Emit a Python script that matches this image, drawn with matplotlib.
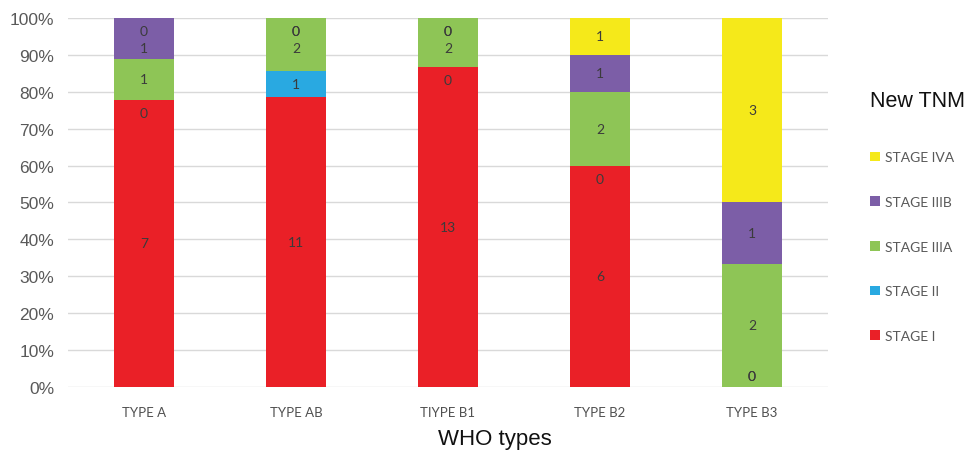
import matplotlib
matplotlib.use("Agg")
import matplotlib.pyplot as plt
from matplotlib.patches import Patch
import numpy as np

# patients per WHO type, split by new TNM stage
who_types = ["TYPE A", "TYPE AB", "TIYPE B1", "TYPE B2", "TYPE B3"]
stages = ["STAGE I", "STAGE II", "STAGE IIIA", "STAGE IIIB", "STAGE IVA"]
stage_i = [7, 11, 13, 6, 0]
stage_ii = [0, 1, 0, 0, 0]
stage_iiia = [1, 2, 2, 2, 2]
stage_iiib = [1, 0, 0, 1, 1]
stage_iva = [0, 0, 0, 1, 3]
stage_colors = ["#EA2027", "#29A9E1", "#8EC556", "#7C5EA7", "#F5E91A"]

counts = np.array([stage_i, stage_ii, stage_iiia, stage_iiib, stage_iva], dtype=float)
shares = counts / counts.sum(axis=0) * 100

fig = plt.figure(figsize=(9.7, 4.52), dpi=100)
ax = fig.add_axes([0.0701, 0.1416, 0.7835, 0.8164])

x = np.arange(len(who_types))
bottoms = np.zeros(len(who_types))
label_pos = np.zeros_like(shares)
for row, share in enumerate(shares):
    ax.bar(x, share, bottom=bottoms, width=0.4, color=stage_colors[row], zorder=2)
    for col in range(len(who_types)):
        if share[col] == 0:
            label_pos[row, col] = min(max(bottoms[col] - 3.5, 3.0), 97.5)
        else:
            label_pos[row, col] = bottoms[col] + share[col] / 2
    bottoms += share

# keep a value label clear of a zero label stacked at the top of the bar
for col in range(len(who_types)):
    top_zeros = [r for r in range(len(stages)) if counts[r, col] == 0 and label_pos[r, col] > 95]
    if top_zeros:
        for r in range(len(stages)):
            if counts[r, col] > 0:
                label_pos[r, col] = min(label_pos[r, col], 97.5 - 5.5)

for row in range(len(stages)):
    for col in range(len(who_types)):
        ax.text(x[col], label_pos[row, col], f"{int(counts[row, col])}", ha="center",
                va="center", fontsize=10, color="#3b3b3b", family="Lato", zorder=3)

ax.set_xlim(-0.5, len(who_types) - 0.5)
ax.set_ylim(0, 100)
ax.set_yticks(np.arange(0, 101, 10))
ax.set_yticklabels([f"{v}%" for v in range(0, 101, 10)], family="Liberation Sans",
                   fontsize=12.5, color="#595959")
ax.set_xticks(x)
ax.set_xticklabels(who_types, family="Lato", fontsize=9.5, color="#505050")
ax.tick_params(axis="both", length=0)
ax.tick_params(axis="x", pad=14)
ax.tick_params(axis="y", pad=10)
ax.grid(axis="y", color="#d9d9d9", linewidth=1, zorder=0)
for spine in ax.spines.values():
    spine.set_visible(False)

ax.set_xlabel("WHO types", family="Liberation Sans", fontsize=16, color="#111111")
ax.xaxis.set_label_coords(0.562, -0.11)

handles = [Patch(facecolor=c, edgecolor="none") for c in stage_colors]
leg = fig.legend(handles[::-1], stages[::-1], loc="upper left",
                 bbox_to_anchor=(0.884, 0.826), frameon=False,
                 title="New TNM", alignment="left",
                 prop={"family": "Lato", "size": 10},
                 handlelength=0.7, handleheight=0.7, handletextpad=0.4,
                 labelspacing=2.35)
leg.get_title().set_fontfamily("Liberation Sans")
leg.get_title().set_fontsize(15.5)
leg.get_title().set_color("#111111")
for t in leg.get_texts():
    t.set_color("#595959")
leg._legend_box.sep = 29

fig.savefig("out.png", dpi=100, facecolor="white")
